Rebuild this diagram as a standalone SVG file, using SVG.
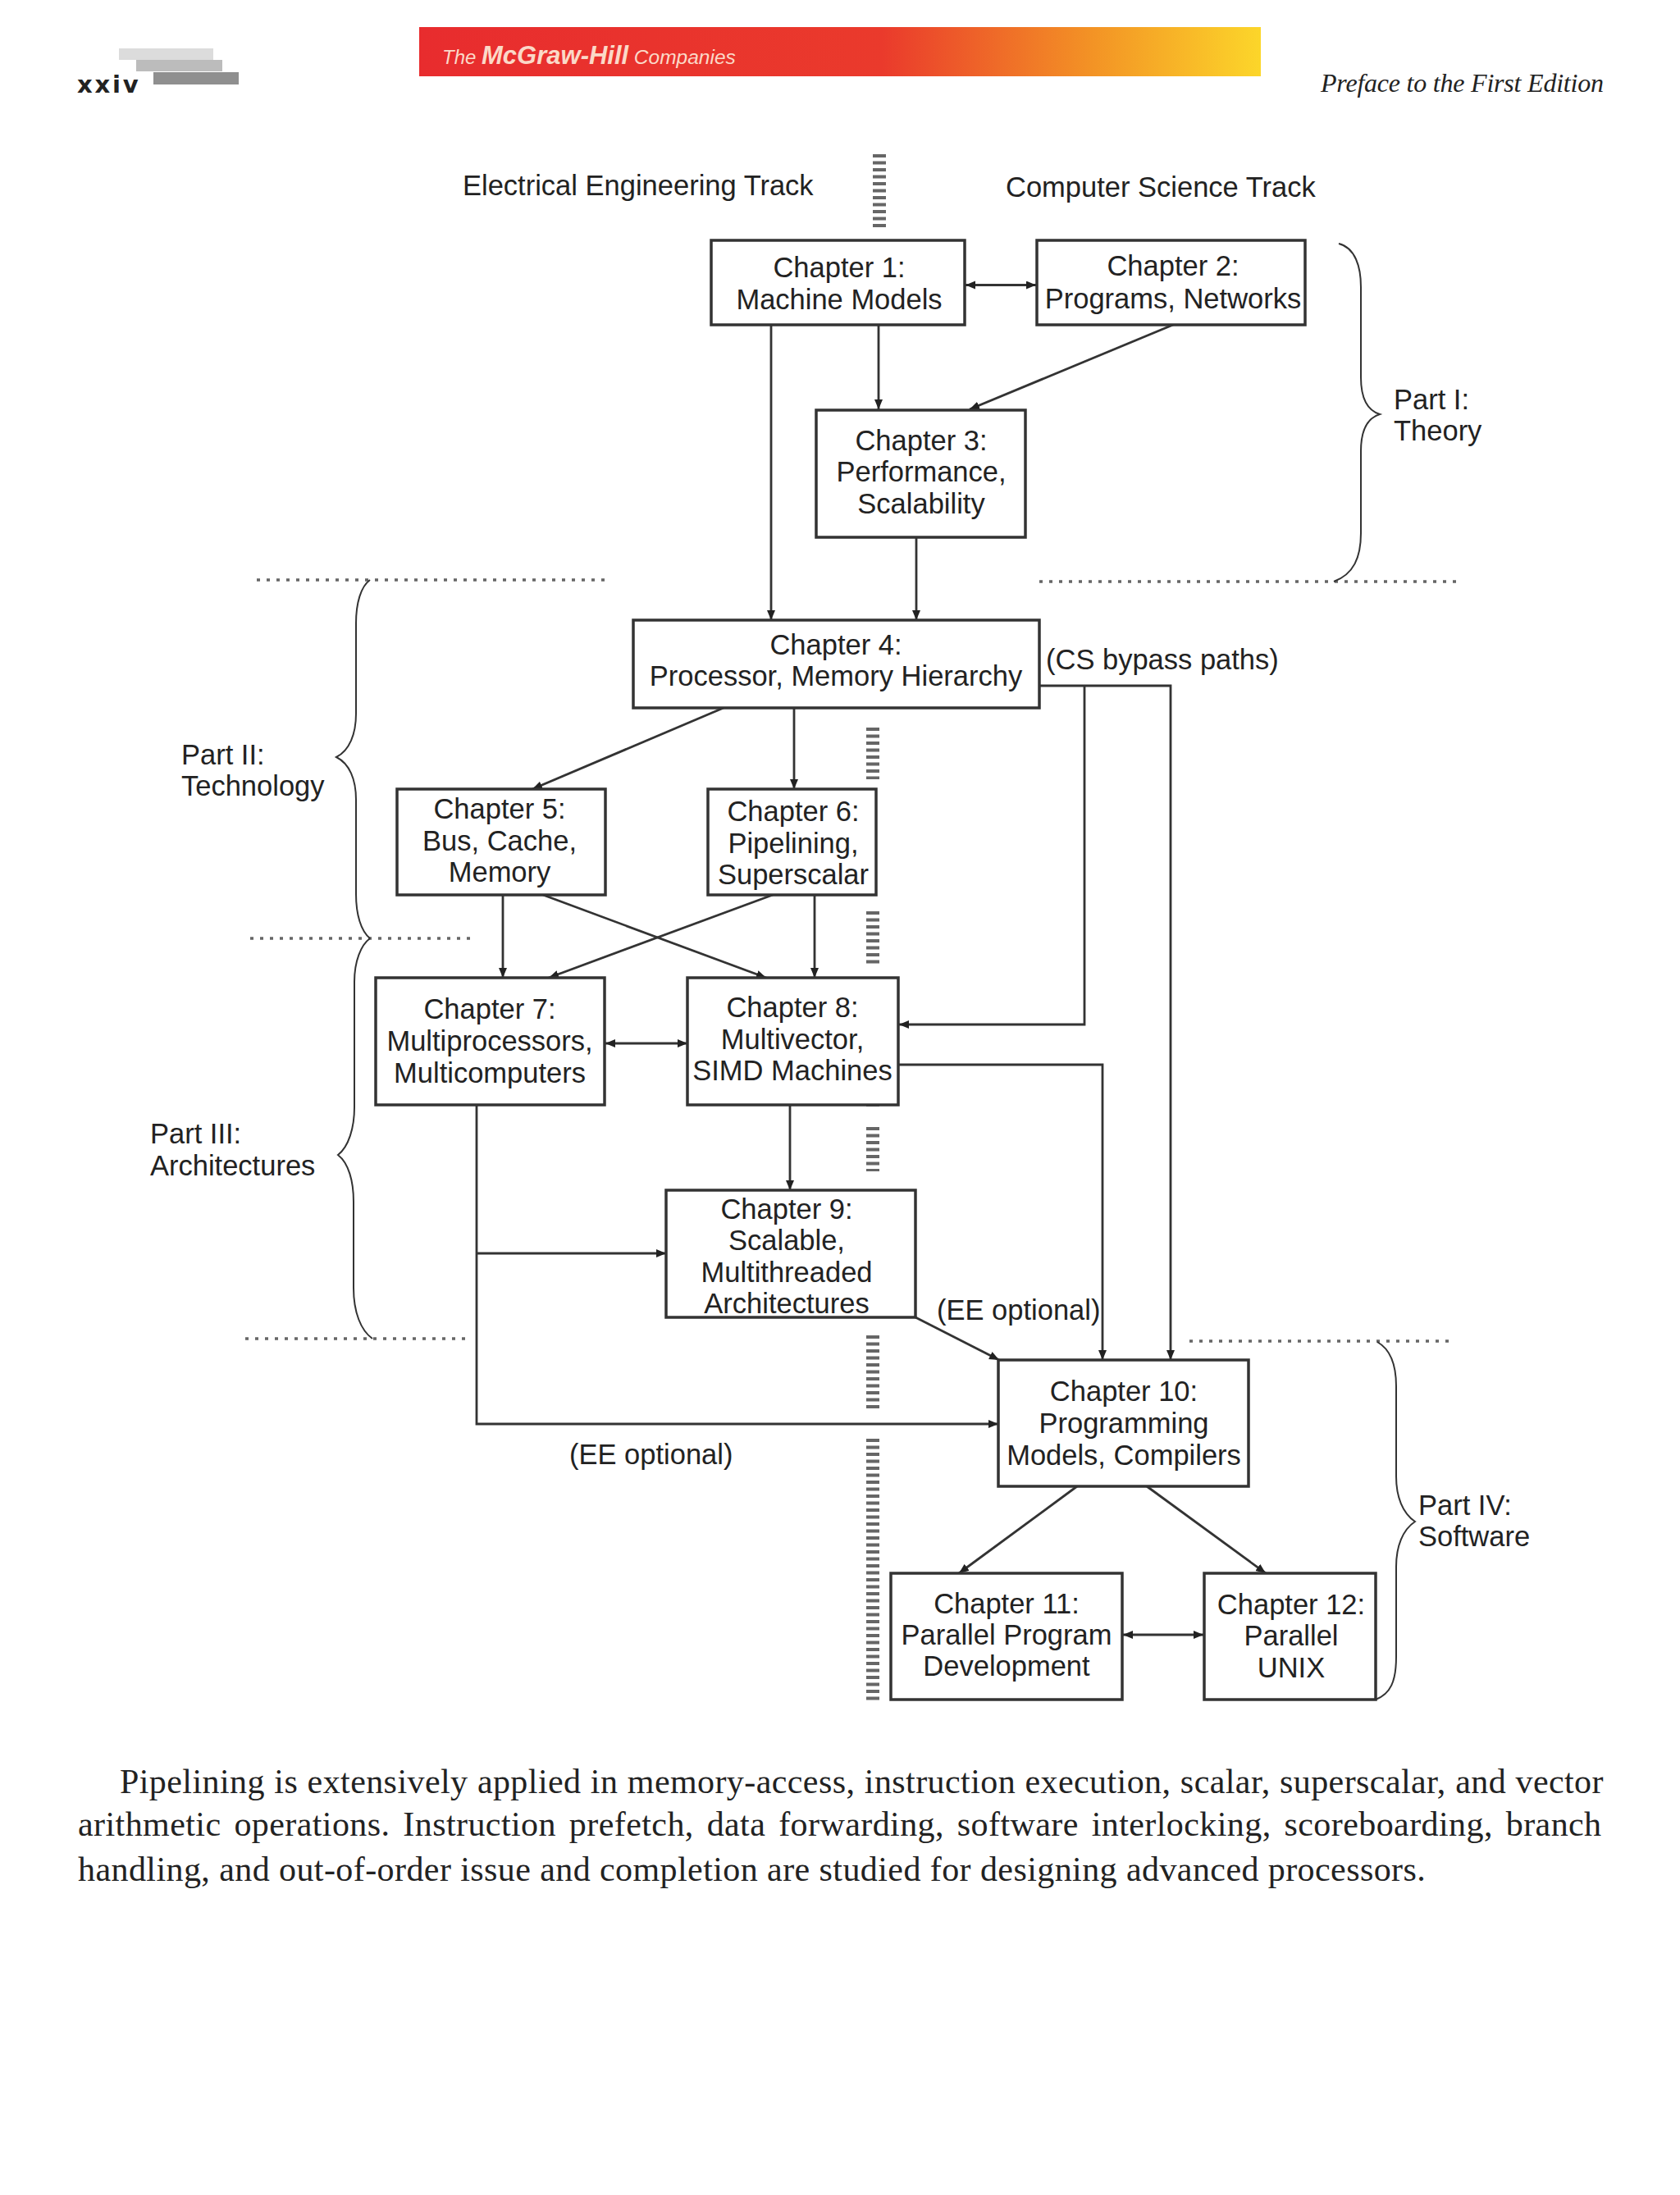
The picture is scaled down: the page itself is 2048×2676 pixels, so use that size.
<svg xmlns="http://www.w3.org/2000/svg" width="2048" height="2676" viewBox="0 0 2048 2676">
<defs>
<linearGradient id="bar" x1="0" y1="0" x2="1" y2="0"><stop offset="0" stop-color="#e82c2e"/><stop offset="0.55" stop-color="#ea3a2c"/><stop offset="0.8" stop-color="#f39325"/><stop offset="1" stop-color="#fcd62a"/></linearGradient>
<marker id="a" markerUnits="userSpaceOnUse" markerWidth="14" markerHeight="12" refX="12" refY="5" orient="auto-start-reverse"><path d="M0 0L12 5L0 10Z" fill="#222"/></marker>
</defs>
<style>
text{font-family:"Liberation Sans",Arial,sans-serif;font-size:34.5px;fill:#222}
.c{text-anchor:middle}
rect.b{fill:#fff;stroke:#333;stroke-width:3.5}
.l{fill:none;stroke:#333;stroke-width:2.8}
.br{fill:none;stroke:#333;stroke-width:2}
.dh{fill:none;stroke:#666;stroke-width:3.5;stroke-dasharray:4 8}
.dv{fill:none;stroke:#666;stroke-width:16;stroke-dasharray:4 4.5}
.p{font-family:"Liberation Serif","Times New Roman",serif;font-size:42px;letter-spacing:.42px}
</style>
<rect width="2048" height="2676" fill="#fff"/>
<g id="header">
<rect x="145" y="59" width="115" height="14" fill="#dcdcdc"/>
<rect x="166" y="73" width="105" height="14" fill="#bcbcbc"/>
<rect x="187" y="88" width="104" height="15" fill="#8f8f8f"/>
<text x="94" y="113" style="font-family:'DejaVu Sans',sans-serif;font-weight:bold;font-size:29px;letter-spacing:2.8px">xxiv</text>
<rect x="511" y="33" width="1026" height="60" fill="url(#bar)"/>
<text x="539" y="78" style="font-style:italic;font-size:24px;fill:#fbd9c8">The <tspan style="font-weight:bold;font-size:31px">McGraw-Hill</tspan> <tspan style="font-size:24.5px">Companies</tspan></text>
<text x="1610" y="112" textLength="345" style="font-family:'Liberation Serif',serif;font-style:italic;font-size:32px">Preface to the First Edition</text>
</g>
<g id="tracks">
<text x="564" y="238">Electrical Engineering Track</text>
<text x="1226" y="240">Computer Science Track</text>
<path class="dv" d="M1072 188V277M1064 887V950M1064 1111V1175M1064 1345V1352M1064 1374V1428M1064 1628V1717M1064 1754V2075"/>
<path class="dh" d="M313 707H744M1267 709H1783M305 1144H578M299 1632H572M1450 1635H1774"/>
</g>
<g id="connectors">
<path class="l" marker-start="url(#a)" marker-end="url(#a)" d="M1177 347.5H1263"/>
<path class="l" marker-end="url(#a)" d="M940 396V756"/>
<path class="l" marker-end="url(#a)" d="M1071 396V499"/>
<path class="l" marker-end="url(#a)" d="M1430 396L1182 499"/>
<path class="l" marker-end="url(#a)" d="M1117 655V756"/>
<path class="l" marker-end="url(#a)" d="M882 863L649 962"/>
<path class="l" marker-end="url(#a)" d="M968 863V962"/>
<path class="l" marker-end="url(#a)" d="M1267 836H1427V1658"/>
<path class="l" marker-end="url(#a)" d="M1322 836V1249H1096"/>
<path class="l" marker-end="url(#a)" d="M613 1091V1192"/>
<path class="l" marker-end="url(#a)" d="M662 1091L934 1192"/>
<path class="l" marker-end="url(#a)" d="M942 1091L669 1192"/>
<path class="l" marker-end="url(#a)" d="M993 1091V1192"/>
<path class="l" marker-start="url(#a)" marker-end="url(#a)" d="M738 1272H838"/>
<path class="l" marker-end="url(#a)" d="M1095 1298H1344V1658"/>
<path class="l" marker-end="url(#a)" d="M963 1347V1451"/>
<path class="l" marker-end="url(#a)" d="M581 1347V1736H1217"/>
<path class="l" marker-end="url(#a)" d="M581 1528H812"/>
<path class="l" marker-end="url(#a)" d="M1116 1606L1218 1658"/>
<path class="l" marker-end="url(#a)" d="M1313 1812L1169 1918"/>
<path class="l" marker-end="url(#a)" d="M1398 1812L1543 1918"/>
<path class="l" marker-start="url(#a)" marker-end="url(#a)" d="M1369 1993H1467"/>
</g>
<g id="braces">
<path class="br" d="M1632 297C1652 302 1659 325 1659 350V460C1659 485 1666 500 1682 505C1666 510 1659 525 1659 550V650C1659 680 1650 700 1626 709"/>
<path class="br" d="M451 707C440 715 434 735 434 760V870C434 895 426 915 410 923C426 931 434 950 434 975V1090C434 1115 440 1135 451 1144"/>
<path class="br" d="M451 1144C440 1152 432 1172 432 1197V1350C432 1375 425 1398 412 1408C425 1418 431 1440 431 1465V1570C431 1600 440 1622 454 1632"/>
<path class="br" d="M1679 1636C1695 1645 1702 1665 1702 1690V1800C1702 1825 1710 1845 1725 1855C1710 1865 1702 1885 1702 1910V2020C1702 2050 1695 2065 1677 2072"/>
</g>
<g id="ch1"><rect class="b" x="867" y="293" width="309" height="103"/><text class="c" x="1023" y="338">Chapter 1:</text><text class="c" x="1023" y="377">Machine Models</text></g>
<g id="ch2"><rect class="b" x="1264" y="293" width="327" height="103"/><text class="c" x="1430" y="336">Chapter 2:</text><text class="c" x="1430" y="376">Programs, Networks</text></g>
<g id="ch3"><rect class="b" x="995" y="500" width="255" height="155"/><text class="c" x="1123" y="549">Chapter 3:</text><text class="c" x="1123" y="587">Performance,</text><text class="c" x="1123" y="626">Scalability</text></g>
<g id="ch4"><rect class="b" x="772" y="756" width="495" height="107"/><text class="c" x="1019" y="798">Chapter 4:</text><text class="c" x="1019" y="836">Processor, Memory Hierarchy</text></g>
<g id="ch5"><rect class="b" x="484" y="962" width="254" height="129"/><text class="c" x="609" y="998">Chapter 5:</text><text class="c" x="609" y="1037">Bus, Cache,</text><text class="c" x="609" y="1075">Memory</text></g>
<g id="ch6"><rect class="b" x="863" y="962" width="205" height="129"/><text class="c" x="967" y="1001">Chapter 6:</text><text class="c" x="967" y="1040">Pipelining,</text><text class="c" x="967" y="1078">Superscalar</text></g>
<g id="ch7"><rect class="b" x="458" y="1192" width="279" height="155"/><text class="c" x="597" y="1242">Chapter 7:</text><text class="c" x="597" y="1281">Multiprocessors,</text><text class="c" x="597" y="1320">Multicomputers</text></g>
<g id="ch8"><rect class="b" x="838" y="1192" width="257" height="155"/><text class="c" x="966" y="1240">Chapter 8:</text><text class="c" x="966" y="1279">Multivector,</text><text class="c" x="966" y="1317">SIMD Machines</text></g>
<g id="ch9"><rect class="b" x="812" y="1451" width="304" height="155"/><text class="c" x="959" y="1486">Chapter 9:</text><text class="c" x="959" y="1524">Scalable,</text><text class="c" x="959" y="1563">Multithreaded</text><text class="c" x="959" y="1601">Architectures</text></g>
<g id="ch10"><rect class="b" x="1217" y="1658" width="305" height="154"/><text class="c" x="1370" y="1708">Chapter 10:</text><text class="c" x="1370" y="1747">Programming</text><text class="c" x="1370" y="1786">Models, Compilers</text></g>
<g id="ch11"><rect class="b" x="1086" y="1918" width="282" height="154"/><text class="c" x="1227" y="1967">Chapter 11:</text><text class="c" x="1227" y="2005">Parallel Program</text><text class="c" x="1227" y="2043">Development</text></g>
<g id="ch12"><rect class="b" x="1468" y="1918" width="209" height="154"/><text class="c" x="1574" y="1968">Chapter 12:</text><text class="c" x="1574" y="2006">Parallel</text><text class="c" x="1574" y="2045">UNIX</text></g>
<g id="labels">
<text x="1699" y="499">Part I:</text><text x="1699" y="537">Theory</text>
<text x="221" y="932">Part II:</text><text x="221" y="970">Technology</text>
<text x="183" y="1394">Part III:</text><text x="183" y="1433">Architectures</text>
<text x="1729" y="1847">Part IV:</text><text x="1729" y="1885">Software</text>
<text x="1275" y="816">(CS bypass paths)</text>
<text x="1142" y="1609">(EE optional)</text>
<text x="694" y="1785">(EE optional)</text>
</g>
<g id="body">
<text class="p" x="146" y="2186" style="word-spacing:.5px">Pipelining is extensively applied in memory-access, instruction execution, scalar, superscalar, and vector</text>
<text class="p" x="95" y="2238" style="word-spacing:5px">arithmetic operations. Instruction prefetch, data forwarding, software interlocking, scoreboarding, branch</text>
<text class="p" x="95" y="2293">handling, and out-of-order issue and completion are studied for designing advanced processors.</text>
</g>
</svg>
